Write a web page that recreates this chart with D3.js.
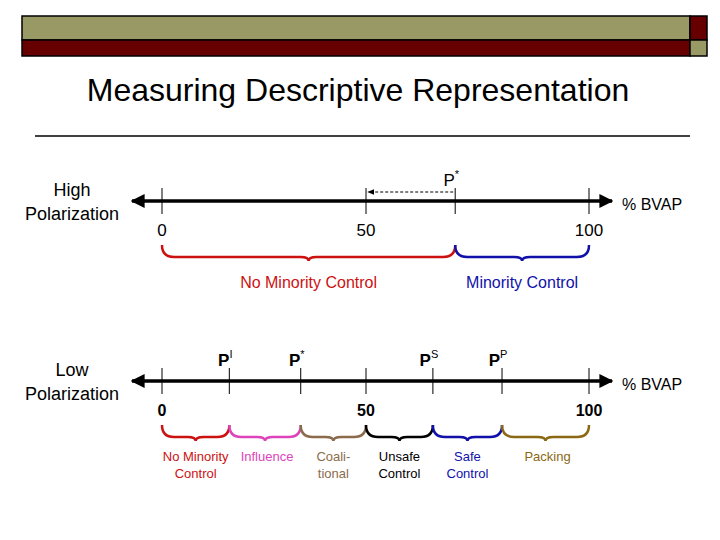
<!DOCTYPE html>
<html>
<head>
<script src="https://cdn.jsdelivr.net/npm/d3@7"></script>
<style>
  body { margin: 0; background: #fff; }
  text { font-family: Arial, "Liberation Sans", sans-serif; }
</style>
</head>
<body>
<svg width="720" height="540"></svg>
<script>
var axisTicks = [0, 50, 100];
var highMarks = [{name: "P", sup: "*", v: 70}];
var highRegions = [
  {label: ["No Minority Control"], from: 0, to: 70, color: "#cc1111"},
  {label: ["Minority Control"], from: 70, to: 100, color: "#1111aa"}
];
var lowMarks = [
  {name: "P", sup: "I", v: 16.5},
  {name: "P", sup: "*", v: 34},
  {name: "P", sup: "S", v: 65},
  {name: "P", sup: "P", v: 80.5}
];
var lowRegions = [
  {label: ["No Minority", "Control"], from: 0, to: 16.5, color: "#cc1111"},
  {label: ["Influence"], from: 16.5, to: 34, color: "#dd44bb"},
  {label: ["Coali-", "tional"], from: 34, to: 50, color: "#8b6b4b"},
  {label: ["Unsafe", "Control"], from: 50, to: 65, color: "#000000"},
  {label: ["Safe", "Control"], from: 65, to: 80.5, color: "#1111aa"},
  {label: ["Packing"], from: 80.5, to: 100, color: "#8b6914"}
];

var svg = d3.select("svg");
var x = d3.scaleLinear().domain([0, 50, 100]).range([162, 366, 589]);

// header bars
svg.append("rect").attr("x", 22).attr("y", 16).attr("width", 668).attr("height", 24).attr("fill", "#999966").attr("stroke", "#000").attr("stroke-width", 1.5);
svg.append("rect").attr("x", 22).attr("y", 40).attr("width", 668).attr("height", 16).attr("fill", "#660000").attr("stroke", "#000").attr("stroke-width", 1.5);
svg.append("rect").attr("x", 690).attr("y", 16).attr("width", 17).attr("height", 24).attr("fill", "#660000").attr("stroke", "#000").attr("stroke-width", 1.5);
svg.append("rect").attr("x", 690).attr("y", 40).attr("width", 17).attr("height", 16).attr("fill", "#999966").attr("stroke", "#000").attr("stroke-width", 1.5);

svg.append("text").attr("x", 358).attr("y", 101).attr("text-anchor", "middle")
  .attr("font-size", 32).text("Measuring Descriptive Representation");
svg.append("line").attr("x1", 35).attr("x2", 690).attr("y1", 136).attr("y2", 136).attr("stroke", "#000").attr("stroke-width", 1.5);

var defs = svg.append("defs");
defs.append("marker").attr("id", "ah").attr("viewBox", "0 0 10 10").attr("refX", 9).attr("refY", 5)
  .attr("markerWidth", 4).attr("markerHeight", 4).attr("orient", "auto-start-reverse")
  .append("path").attr("d", "M0,0L10,5L0,10z").attr("fill", "#000");
defs.append("marker").attr("id", "ah2").attr("viewBox", "0 0 10 10").attr("refX", 9).attr("refY", 5)
  .attr("markerWidth", 6).attr("markerHeight", 6).attr("orient", "auto-start-reverse")
  .append("path").attr("d", "M0,1L10,5L0,9z").attr("fill", "#000");

function brace(x0, x1, y, h) {
  var m = (x0 + x1) / 2;
  return "M" + x0 + "," + y + " Q" + x0 + "," + (y + h * 0.75) + " " + (x0 + 12) + "," + (y + h * 0.75) +
    " L" + (m - 8) + "," + (y + h * 0.75) + " Q" + m + "," + (y + h * 0.75) + " " + m + "," + (y + h) +
    " Q" + m + "," + (y + h * 0.75) + " " + (m + 8) + "," + (y + h * 0.75) +
    " L" + (x1 - 12) + "," + (y + h * 0.75) + " Q" + x1 + "," + (y + h * 0.75) + " " + x1 + "," + y;
}

function panel(y0, title, marks, regions, bold, labelY, lineH, labelSize) {
  var g = svg.append("g");
  g.append("text").attr("x", 72).attr("y", y0 - 5).attr("text-anchor", "middle").attr("font-size", 18).text(title[0]);
  g.append("text").attr("x", 72).attr("y", y0 + 19).attr("text-anchor", "middle").attr("font-size", 18).text(title[1]);
  g.append("line").attr("x1", 132).attr("x2", 612).attr("y1", y0).attr("y2", y0)
    .attr("stroke", "#000").attr("stroke-width", 3.5)
    .attr("marker-start", "url(#ah)").attr("marker-end", "url(#ah)");
  g.append("text").attr("x", 622).attr("y", y0 + 9).attr("font-size", 16).text("% BVAP");
  var tv = axisTicks.concat(marks.map(function(d){ return d.v; }));
  g.selectAll(".tk").data(tv).join("line").attr("x1", x).attr("x2", x)
    .attr("y1", y0 - 13).attr("y2", y0 + 13).attr("stroke", "#000").attr("stroke-width", 1);
  g.selectAll(".tl").data(axisTicks).join("text").attr("x", x).attr("y", y0 + 35)
    .attr("text-anchor", "middle").attr("font-size", bold ? 16 : 17).attr("font-weight", bold ? "bold" : "normal").text(function(d){ return d; });
  marks.forEach(function(m) {
    var t = g.append("text").attr("x", x(m.v) - 4).attr("y", y0 - 15).attr("text-anchor", "middle").attr("font-size", 17).attr("font-weight", bold ? "bold" : "normal");
    t.append("tspan").text(m.name);
    t.append("tspan").attr("dy", -8).attr("font-size", 11).attr("font-weight", "normal").text(m.sup);
  });
  regions.forEach(function(r) {
    g.append("path").attr("d", brace(x(r.from), x(r.to), y0 + 44, 16)).attr("fill", "none")
      .attr("stroke", r.color).attr("stroke-width", 2.5);
    r.label.forEach(function(l, i) {
      g.append("text").attr("x", (x(r.from) + x(r.to)) / 2 + (r.label.length === 1 && regions.length > 2 ? 2 : 0))
        .attr("y", y0 + labelY + i * lineH).attr("text-anchor", "middle").attr("font-size", labelSize)
        .attr("fill", r.color).text(l);
    });
  });
}

panel(201, ["High", "Polarization"], highMarks, highRegions, false, 87, 16, 16);
panel(381, ["Low", "Polarization"], lowMarks, lowRegions, true, 80, 17, 13);

// dashed arrow from P* back to 50
svg.append("line").attr("x1", x(70) - 2).attr("x2", x(50) + 2).attr("y1", 192).attr("y2", 192)
  .attr("stroke", "#000").attr("stroke-width", 1.2).attr("stroke-dasharray", "3,2").attr("marker-end", "url(#ah2)");
</script>
</body>
</html>
